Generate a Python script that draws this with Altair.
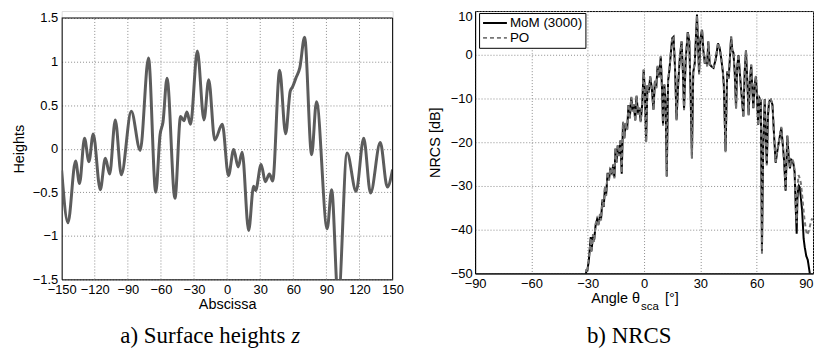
import altair as alt
import pandas as pd

# ---------------- panel a : surface heights ----------------
surf_x = [-150, -144.3, -137.4, -133.8, -129.3, -125.3, -121.4, -115.0, -110.4, -106.5,
          -101.4, -95.9, -86.9, -78.8, -71.3, -64.7, -60.8, -58.1, -54.5, -47.3,
          -42.2, -39.2, -36.5, -33.2, -27.0, -21.0, -16.7, -11.2, -4.4, 1.2,
          5.9, 10.0, 13.6, 19.5, 24.0, 25.8, 30.8, 34.6, 38.3, 41.3,
          47.6, 53.0, 57.2, 59.3, 62.3, 65.9, 70.2, 76.6, 81.0, 90.7,
          94.7, 100.7, 108.7, 116.9, 123.8, 130.0, 138.8, 145.2, 150]
surf_z = [-0.25, -0.85, -0.14, -0.40, 0.12, -0.15, 0.17, -0.47, -0.11, -0.29,
          0.33, -0.30, 0.43, -0.02, 1.04, -0.50, 0.16, 0.31, 0.81, -0.57,
          0.37, 0.32, 0.42, 0.28, 1.12, 0.33, 0.79, 0.10, 0.28, -0.31,
          -0.01, -0.21, -0.04, -0.94, -0.43, -0.48, -0.18, -0.38, -0.29, -0.37,
          0.90, 0.17, 0.66, 0.71, 0.81, 0.93, 1.28, -0.07, 0.54, -0.92,
          -0.47, -1.75, -0.05, -0.49, 0.12, -0.51, 0.07, -0.44, -0.24]

# ---------------- panel b : NRCS ----------------
angle_mom = [-32.0, -30.8, -30.2, -29.4, -28.4, -28.0, -27.2, -26.6, -25.8, -25.0,
             -24.2, -23.5, -22.9, -22.2, -21.5, -20.8, -20.2, -19.4, -18.7, -18.0,
             -17.2, -16.4, -15.8, -15.2, -14.6, -14.0, -13.3, -12.6, -11.9, -11.2,
             -10.5, -9.8, -9.0, -8.3, -7.6, -6.8, -6.1, -5.4, -4.7, -4.0,
             -3.2, -2.5, -1.8, -1.0, -0.2, 0.5, 1.1, 1.8, 2.5, 3.3,
             4.2, 5.0, 5.8, 6.5, 7.2, 8.0, 8.9, 9.6, 10.1, 10.8,
             11.5, 12.1, 12.8, 13.5, 14.4, 15.0, 15.7, 16.5, 17.3, 18.2,
             19.0, 20.0, 20.7, 21.3, 22.2, 23.3, 24.1, 24.8, 25.5, 26.2,
             27.0, 28.2, 28.8, 29.3, 30.0, 30.9, 31.6, 32.4, 33.0, 33.6,
             34.2, 35.0, 36.0, 37.0, 38.2, 39.4, 40.3, 41.1, 42.0, 42.5,
             43.4, 44.3, 45.1, 46.4, 47.0, 47.6, 48.3, 49.0, 49.6, 50.3,
             51.0, 51.7, 52.9, 53.6, 54.3, 55.0, 55.7, 56.4, 57.1, 57.7,
             58.2, 58.9, 59.6, 60.2, 60.8, 61.5, 62.2, 62.8, 63.5, 64.3,
             64.9, 65.4, 66.0, 66.6, 67.5, 68.4, 69.2, 70.1, 71.0, 72.0,
             73.1, 74.0, 74.6, 75.4, 76.3, 77.0, 77.7, 78.4, 79.0, 79.6,
             80.2, 80.8, 81.3, 81.7, 82.0, 82.5, 83.0, 84.2, 85.0, 85.6,
             86.4, 87.2, 88.3, 89.0]
nrcs_mom = [-56.0, -49.5, -49.3, -47.0, -41.7, -44.8, -41.5, -42.4, -39.0, -37.6,
            -38.8, -36.8, -37.5, -33.3, -34.8, -30.3, -32.0, -27.0, -28.5, -26.3,
            -27.0, -25.2, -28.0, -21.5, -24.5, -20.8, -23.0, -19.6, -27.2, -15.5,
            -19.0, -15.6, -17.0, -11.5, -14.5, -9.8, -12.8, -11.5, -15.0, -9.5,
            -13.5, -12.2, -15.2, -11.5, -3.5, -9.0, -19.8, -7.0, -8.5, -5.0,
            -8.0, -12.5, -6.0, -7.5, -2.7, -5.0, -0.5, -8.0, -16.0, -6.9,
            -11.0, -27.7, -6.0, -3.5, 1.0, 3.8, 4.1, -3.0, -14.8, -6.5,
            -1.0, 3.0, -4.0, -12.5, -1.0, 5.2, 3.0, -9.0, -23.6, -4.0,
            -2.0, 9.2, 2.0, -4.3, 3.5, 5.7, 1.0, -2.0, -0.5, -2.5,
            3.0, -2.2, -2.7, -3.0, -1.0, 2.6, 1.5, -0.8, -4.0, -7.0,
            -22.0, -3.9, -5.3, 4.1, 1.0, 0.5, -4.0, -12.2, -3.0, -0.1,
            -4.0, -7.9, -14.1, -4.0, 1.0, -6.0, -13.7, -6.0, -2.4, -8.0,
            -12.2, -7.0, -5.0, -10.0, -16.0, -9.9, -10.5, -44.8, -20.0, -10.2,
            -20.0, -25.0, -14.0, -10.7, -10.3, -11.4, -18.0, -24.7, -22.0, -19.5,
            -16.7, -21.0, -24.3, -31.1, -18.6, -23.0, -26.0, -24.0, -24.3, -25.0,
            -26.8, -35.0, -40.9, -33.0, -31.1, -30.0, -30.4, -35.6, -42.0, -44.0,
            -46.0, -46.9, -50.0, -53.0]

angle_po = [-32.0, -30.8, -30.2, -29.4, -28.4, -28.0, -27.2, -26.6, -25.8, -25.0,
            -24.2, -23.5, -22.9, -22.2, -21.5, -20.8, -20.2, -19.4, -18.7, -18.0,
            -17.2, -16.4, -15.8, -15.2, -14.6, -14.0, -13.3, -12.6, -11.9, -11.2,
            -10.5, -9.8, -9.0, -8.3, -7.6, -6.8, -6.1, -5.4, -4.7, -4.0,
            -3.2, -2.5, -1.8, -1.0, -0.2, 0.5, 1.1, 1.8, 2.5, 3.3,
            4.2, 5.0, 5.8, 6.5, 7.2, 8.0, 8.9, 9.6, 10.1, 10.8,
            11.5, 12.1, 12.8, 13.5, 14.4, 15.0, 15.7, 16.5, 17.3, 18.2,
            19.0, 20.0, 20.7, 21.3, 22.2, 23.3, 24.1, 24.8, 25.5, 26.2,
            27.0, 28.2, 28.8, 29.3, 30.0, 30.9, 31.6, 32.4, 33.0, 33.6,
            34.2, 35.0, 36.0, 37.0, 38.2, 39.4, 40.3, 41.1, 42.0, 42.5,
            43.4, 44.3, 45.1, 46.4, 47.0, 47.6, 48.3, 49.0, 49.6, 50.3,
            51.0, 51.7, 52.9, 53.6, 54.3, 55.0, 55.7, 56.4, 57.1, 57.7,
            58.2, 58.9, 59.6, 60.2, 60.8, 61.5, 62.2, 62.8, 63.5, 64.3,
            64.9, 65.4, 66.0, 66.6, 67.5, 68.4, 69.2, 70.1, 71.0, 72.0,
            73.1, 74.0, 74.6, 75.4, 76.3, 77.0, 77.7, 78.4, 79.0, 79.6,
            80.2, 80.8, 81.3, 81.7, 82.3, 83.0, 83.6, 84.2, 85.4, 86.2,
            86.9, 87.6, 88.3, 89.0, 89.6]
nrcs_po = [-56.0, -49.0, -49.6, -46.5, -42.0, -45.3, -41.0, -42.8, -38.6, -37.8,
           -39.2, -36.4, -37.9, -33.0, -35.0, -30.0, -32.3, -26.8, -28.8, -26.0,
           -27.3, -25.0, -28.3, -21.2, -24.8, -20.5, -23.2, -19.3, -27.0, -15.3,
           -19.2, -15.4, -17.2, -11.3, -14.7, -9.6, -13.0, -11.3, -15.2, -9.3,
           -13.7, -12.0, -15.4, -11.3, -3.3, -9.2, -20.0, -6.8, -8.7, -4.8,
           -8.2, -12.7, -5.8, -7.7, -2.5, -5.2, -0.3, -8.2, -16.2, -6.7,
           -11.2, -28.0, -5.8, -3.3, 1.2, 3.9, 4.2, -3.2, -15.0, -6.3,
           -0.8, 3.1, -4.2, -12.7, -0.8, 5.3, 3.1, -9.2, -23.8, -3.8,
           -1.8, 9.0, 2.2, -4.5, 3.6, 5.8, 1.2, -2.2, -0.3, -2.7,
           3.1, -2.0, -2.9, -2.8, -0.8, 2.7, 1.6, -0.6, -4.2, -7.2,
           -22.3, -3.7, -5.5, 4.2, 1.1, 0.6, -4.2, -12.4, -2.8, 0.1,
           -4.2, -8.1, -14.3, -3.8, 1.1, -6.2, -13.9, -5.8, -2.2, -8.2,
           -12.4, -6.8, -4.8, -10.2, -16.2, -9.7, -10.7, -45.5, -20.3, -10.0,
           -20.3, -25.3, -13.8, -10.5, -10.1, -11.2, -18.2, -24.5, -21.8, -19.3,
           -16.5, -21.2, -24.1, -30.8, -18.4, -23.2, -25.7, -23.8, -24.0, -24.6,
           -26.4, -34.5, -38.5, -30.5, -27.5, -28.3, -29.5, -32.1, -37.4, -40.0,
           -41.2, -40.5, -39.3, -38.0, -37.4]

series_names = ["MoM (3000)", "PO"]

x_ticks_a = [-150, -120, -90, -60, -30, 0, 30, 60, 90, 120, 150]
y_ticks_a = [-1.5, -1, -0.5, 0, 0.5, 1, 1.5]
x_ticks_b = [-90, -60, -30, 0, 30, 60, 90]
y_ticks_b = [-50, -40, -30, -20, -10, 0, 10]

FONT = "Liberation Sans"
SERIF = "Liberation Serif"
GRID = "#8c8c8c"

common_axis = dict(
    gridColor=GRID, gridDash=[1, 2], gridWidth=1,
    ticks=False, tickSize=0, domainColor="black", domainWidth=1,
    labelFont=FONT, labelFontSize=13, labelColor="black", labelOverlap=False,
    titleFont=FONT, titleFontSize=14.5, titleFontWeight="normal", titleColor="black",
)

# ---- left panel (plot area starts 7px below the top of its group) ----
xs_a = alt.Scale(domain=[-150, 150], nice=False, zero=False)
ys_a = alt.Scale(domain=[-1.5, 1.5], nice=False, zero=False, range=[270, 7])
ax_xa = alt.Axis(values=x_ticks_a, title="Abscissa", labelPadding=4, grid=False,
                 titlePadding=1, labelFlush=False, **common_axis)
ax_ya = alt.Axis(values=y_ticks_a, format="~g", title="Heights", grid=True,
                 labelPadding=4, titlePadding=6, titleY=138.5, **common_axis)

df_a = pd.DataFrame({"x": surf_x, "z": surf_z})
vgrid_a = alt.Chart(pd.DataFrame({"x": x_ticks_a[1:-1]})).mark_rule(
    color=GRID, strokeDash=[1, 2], strokeWidth=1
).encode(x=alt.X("x:Q", scale=xs_a, axis=ax_xa),
         y=alt.datum(-1.5, scale=ys_a, axis=ax_ya), y2=alt.datum(1.5))

line_a = alt.Chart(df_a).mark_line(
    color="#5c5c5c", strokeWidth=3, interpolate="monotone", clip=True
).encode(
    x=alt.X("x:Q", scale=xs_a, axis=ax_xa),
    y=alt.Y("z:Q", scale=ys_a, axis=ax_ya),
)
box = pd.DataFrame({"v": [0]})
top_a = alt.Chart(box).mark_rule(color="black", strokeWidth=1).encode(
    x=alt.datum(-150, scale=xs_a, axis=ax_xa), x2=alt.datum(150),
    y=alt.datum(1.5, scale=ys_a, axis=ax_ya))
right_a = alt.Chart(box).mark_rule(color="black", strokeWidth=1).encode(
    x=alt.datum(150, scale=xs_a, axis=ax_xa),
    y=alt.datum(-1.5, scale=ys_a, axis=ax_ya), y2=alt.datum(1.5))

cap_a = alt.Chart(pd.DataFrame({"t": ["a) Surface heights"]})).mark_text(
    font=SERIF, fontSize=23, align="right", baseline="alphabetic", color="black"
).encode(text="t:N", x=alt.value(225), y=alt.value(334))
cap_az = alt.Chart(pd.DataFrame({"t": ["z"]})).mark_text(
    font=SERIF, fontSize=23, fontStyle="italic", align="left",
    baseline="alphabetic", color="black"
).encode(text="t:N", x=alt.value(231), y=alt.value(334))

left = alt.layer(vgrid_a, line_a, top_a, right_a, cap_a, cap_az).properties(width=333, height=270)

# ---- right panel ----
df_b = pd.concat([
    pd.DataFrame({"angle": angle_mom, "nrcs": nrcs_mom, "series": series_names[0]}),
    pd.DataFrame({"angle": angle_po, "nrcs": nrcs_po, "series": series_names[1]}),
], ignore_index=True)

legend_spec = dict(
    title=None, orient="none", legendX=4, legendY=2,
    fillColor="white", strokeColor="black", padding=3,
    symbolType="M-2,0H2", symbolSize=144, symbolStrokeWidth=2,
    symbolOffset=6, labelOffset=8, rowPadding=1,
    labelFont=FONT, labelFontSize=13.5, labelColor="black",
)

line_b = alt.Chart(df_b).mark_line(strokeWidth=2, clip=True).encode(
    x=alt.X("angle:Q", scale=alt.Scale(domain=[-90, 90], nice=False, zero=False),
            axis=alt.Axis(values=x_ticks_b, title=None, labelPadding=4, grid=True,
                          labelFlush=False,
                          labelAlign={"condition": {"test": "datum.value == 90", "value": "right"},
                                      "value": "center"},
                          **common_axis)),
    y=alt.Y("nrcs:Q", scale=alt.Scale(domain=[-50, 10], nice=False, zero=False),
            axis=alt.Axis(values=y_ticks_b, title="NRCS [dB]", labelPadding=3, grid=True,
                          titlePadding=8,
                          labelBaseline={"condition": {"test": "datum.value == 10", "value": "top"},
                                         "value": "middle"},
                          **common_axis)),
    color=alt.Color("series:N", scale=alt.Scale(domain=series_names, range=["black", "#767676"]),
                    legend=alt.Legend(**legend_spec)),
    strokeDash=alt.StrokeDash("series:N", scale=alt.Scale(domain=series_names, range=[[1, 0], [4, 3]]),
                              legend=alt.Legend(**legend_spec)),
)

t_angle = alt.Chart(pd.DataFrame({"t": ["Angle θ"]})).mark_text(
    font=FONT, fontSize=14.5, align="right", baseline="middle", color="black"
).encode(text="t:N", x=alt.value(166), y=alt.value(290))
t_sub = alt.Chart(pd.DataFrame({"t": ["sca"]})).mark_text(
    font=FONT, fontSize=11.5, align="left", baseline="middle", color="black"
).encode(text="t:N", x=alt.value(167), y=alt.value(298))
t_unit = alt.Chart(pd.DataFrame({"t": ["[°]"]})).mark_text(
    font=FONT, fontSize=14.5, align="left", baseline="middle", color="black"
).encode(text="t:N", x=alt.value(191), y=alt.value(290))
cap_b = alt.Chart(pd.DataFrame({"t": ["b) NRCS"]})).mark_text(
    font=SERIF, fontSize=23, align="center", baseline="alphabetic", color="black"
).encode(text="t:N", x=alt.value(155), y=alt.value(334))

right = alt.layer(line_b, t_angle, t_sub, t_unit, cap_b).properties(
    width=340, height=264, view=alt.ViewConfig(stroke="black", strokeWidth=1)
)

chart = alt.hconcat(left, right, spacing=22).resolve_scale(
    color="independent", strokeDash="independent"
).resolve_legend(
    color="independent", strokeDash="independent"
).properties(
    padding={"left": 2, "top": 1, "right": 0, "bottom": 0}
).configure_view(stroke=None).configure(background="white")

chart.save("out.html", embed_options={"renderer": "svg", "actions": False})
